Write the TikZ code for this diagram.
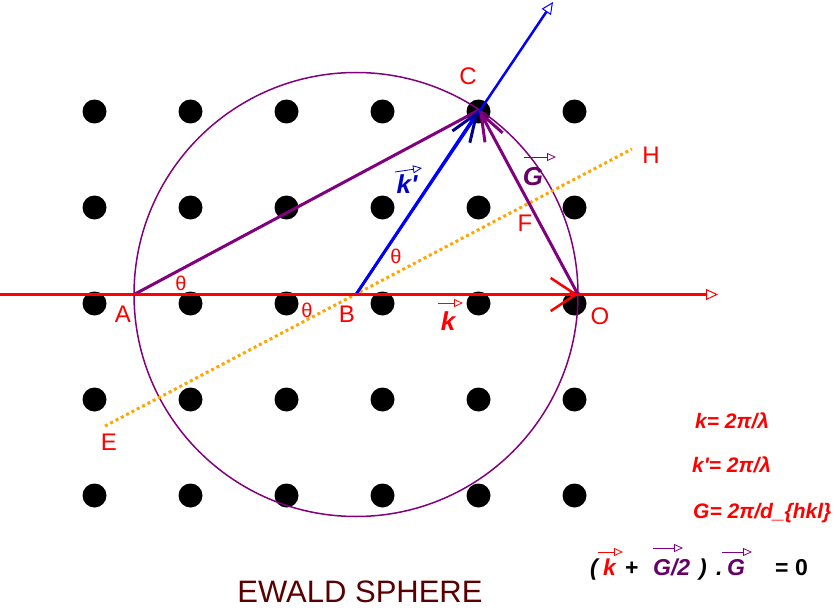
\documentclass[tikz,border=0pt]{standalone}
\usepackage{fontspec}
\setmainfont{Liberation Sans}
\usetikzlibrary{arrows.meta}

\definecolor{lattpurple}{RGB}{128,0,128}
\definecolor{darkpurple}{RGB}{102,0,102}
\definecolor{navy}{RGB}{0,0,140}
\definecolor{kblue}{RGB}{0,0,200}
\definecolor{titlered}{RGB}{90,0,0}
\definecolor{bisect}{RGB}{255,165,0}

\tikzset{
  lbl/.style={text=red, inner sep=0pt, font=\fontsize{24}{26}\selectfont},
  ang/.style={text=red, inner sep=0pt, font=\fontsize{20}{22}\selectfont},
  vec/.style={inner sep=0pt, font=\fontsize{26}{28}\selectfont\bfseries\itshape},
  eqn/.style={text=red, anchor=base west, inner sep=0pt, font=\fontsize{21}{24}\selectfont\bfseries\itshape},
  term/.style={anchor=base west, inner sep=0pt, font=\fontsize{23}{26}\selectfont\bfseries\itshape},
  vecarrow/.style={line width=0.8pt, -{Triangle[open,length=9pt,width=8pt]}},
  ray/.style={line width=2.5pt, -{Triangle[open,length=12pt,width=11pt,line width=1pt]}},
}

\begin{document}
\begin{tikzpicture}[x=1pt, y=-1pt]
		\useasboundingbox (0,0) rectangle (836,610);
		% reseau reciproque
		\foreach \i in {0, ..., 5} {
				\foreach \j in {0, ..., 4} {
						\fill (94.5 + 96*\i, 111.5 + 96*\j) circle(12pt);
					}
			}
		% points de la construction
		\coordinate (A) at (134, 294.5);
		\coordinate (B) at (356, 294.5);
		\coordinate (O) at (578, 294.5);
		\coordinate (C) at (479, 110);
		\coordinate (E) at (105, 426);
		\coordinate (H) at (632, 149);
		\coordinate (T) at (553, 2);
		\coordinate (kstart) at (0, 294.5);
		\coordinate (kend) at (718, 294.5);
		% sphere d'Ewald
		\draw[lattpurple, line width=1.5pt] (B) circle[radius=222pt];
		% faisceau incident et diffracte
		\draw[red, ray] (kstart) -- (kend);
		\draw[blue, ray] (B) -- (T);
		\draw[bisect, line width=3pt, dash pattern=on 3pt off 3pt] (E) -- (H);
		\draw[lattpurple, line width=3pt] (A) -- (C);
		\draw[lattpurple, line width=3pt, -{Straight Barb[length=27pt, width=20pt, line width=3pt]}] (O) -- (C);
		\draw[blue, line width=3pt, -{Straight Barb[length=28pt, width=21pt, line width=3pt, color=navy]}] (B) -- (C);
		\draw[red, line width=2.5pt, -{Straight Barb[length=25pt, width=33pt, line width=2.5pt]}] (A) -- (O);
		% etiquettes
		\node[lbl] (labC) at (468, 76) {C};
		\node[lbl] (labH) at (651, 155) {H};
		\node[lbl] (labF) at (525, 223) {F};
		\node[lbl] (labA) at (123, 314) {A};
		\node[lbl] (labB) at (347, 314) {B};
		\node[lbl] (labO) at (600, 316) {O};
		\node[lbl] (labE) at (109, 442) {E};
		\node[ang] (th1) at (396, 256) {θ};
		\node[ang] (th2) at (181, 283) {θ};
		\node[ang] (th3) at (307, 310) {θ};
		\node[vec, text=darkpurple] (labG) at (533, 177) {G};
		\node[vec, text=kblue] (labkp) at (407, 184) {k\textquotesingle};
		\node[vec, text=red] (labk) at (448, 321) {k};
		\draw[vecarrow, lattpurple] ([shift={(-9, -20)}]labG.center) -- ++(32, 0);
		\draw[vecarrow, kblue] ([shift={(-12, -12)}]labkp.center) -- ++(27, -4);
		\draw[vecarrow, red] ([shift={(-10, -18)}]labk.center) -- ++(25, 0);
		% relations
		\node[eqn] (kdef) at (695, 428) {k= 2π/λ};
		\node[eqn] (kpdef) at (692, 472) {k\textquotesingle= 2π/λ};
		\node[eqn] (gdef) at (693, 518) {G= 2π/d\_\{hkl\}};
		\node[term] (eqL) at (590, 575) {(};
		\node[term, text=red] (eqk) at (603, 575) {k};
		\node[term, font=\fontsize{23}{26}\selectfont\bfseries] (eqplus) at (625, 575) {+};
		\node[term, text=darkpurple] (eqGh) at (653, 575) {G/2};
		\node[term] (eqR) at (699, 575) {)};
		\node[term] (eqdot) at (716, 575) {.};
		\node[term, text=darkpurple] (eqG) at (727, 575) {G};
		\node[term, font=\fontsize{23}{26}\selectfont\bfseries] (eqzero) at (775, 575) {= 0};
		\draw[vecarrow, red] ([shift={(-5, -23)}]eqk.base west) -- ++(25, 0);
		\draw[vecarrow, lattpurple] ([shift={(0, -27)}]eqGh.base west) -- ++(30, 0);
		\draw[vecarrow, lattpurple] ([shift={(-5, -23)}]eqG.base west) -- ++(30, 0);
		% titre
		\node[text=titlered, font=\fontsize{31}{34}\selectfont] (title) at (360, 592) {EWALD SPHERE};
	\end{tikzpicture}
\end{document}
